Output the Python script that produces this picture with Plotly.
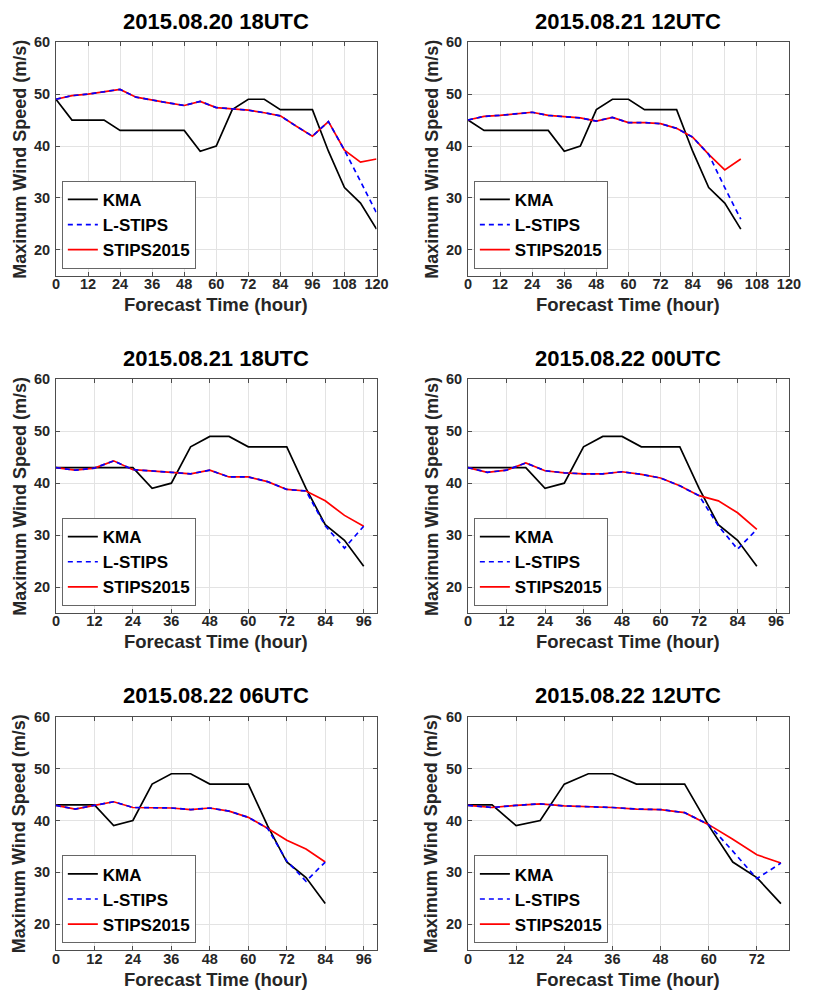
import plotly.graph_objects as go

# Forecast lead times (hours) shared by all runs
HOURS = [0, 6, 12, 18, 24, 30, 36, 42, 48, 54, 60, 66, 72, 78, 84, 90, 96, 102, 108, 114, 120]

INIT_TIMES = ["2015.08.20 18UTC", "2015.08.21 12UTC", "2015.08.21 18UTC",
              "2015.08.22 00UTC", "2015.08.22 06UTC", "2015.08.22 12UTC"]

# Best-track (KMA) maximum wind speed, m/s
KMA_0820_18 = [49, 45, 45, 45, 43, 43, 43, 43, 43, 39, 40, 47, 49, 49, 47, 47, 47, 39, 32, 29, 24]
KMA_0821_12 = [45, 43, 43, 43, 43, 43, 39, 40, 47, 49, 49, 47, 47, 47, 39, 32, 29, 24]
KMA_0821_18 = [43, 43, 43, 43, 43, 39, 40, 47, 49, 49, 47, 47, 47, 39, 32, 29, 24]
KMA_0822_00 = [43, 43, 43, 43, 39, 40, 47, 49, 49, 47, 47, 47, 39, 32, 29, 24]
KMA_0822_06 = [43, 43, 43, 39, 40, 47, 49, 49, 47, 47, 47, 39, 32, 29, 24]
KMA_0822_12 = [43, 43, 39, 40, 47, 49, 49, 47, 47, 47, 39, 32, 29, 24]

# STIPS2015 forecasts
STIPS_0820_18 = [49.0, 49.7, 50.0, 50.5, 50.9, 49.4, 48.8, 48.3, 47.8, 48.6, 47.4, 47.2,
                 46.9, 46.4, 45.8, 43.8, 41.9, 44.7, 39.2, 36.9, 37.5]
STIPS_0821_12 = [45.0, 45.7, 45.9, 46.2, 46.5, 45.9, 45.7, 45.4, 44.8, 45.5, 44.5, 44.5,
                 44.3, 43.4, 41.7, 38.4, 35.4, 37.5]
STIPS_0821_18 = [43.0, 42.5, 42.9, 44.3, 42.6, 42.4, 42.1, 41.8, 42.5, 41.2, 41.2, 40.3,
                 38.8, 38.5, 36.6, 33.8, 31.7]
STIPS_0822_00 = [43.0, 42.1, 42.5, 43.9, 42.4, 42.0, 41.8, 41.8, 42.2, 41.7, 41.0, 39.5,
                 37.6, 36.6, 34.3, 31.1]
STIPS_0822_06 = [42.9, 42.2, 42.9, 43.6, 42.5, 42.5, 42.4, 42.1, 42.4, 41.8, 40.6, 38.5,
                 36.2, 34.5, 32.0]
STIPS_0822_12 = [42.9, 42.5, 42.9, 43.2, 42.8, 42.7, 42.5, 42.2, 42.1, 41.5, 39.2, 36.4,
                 33.4, 31.8]

# L-STIPS forecasts
LSTIPS_0820_18 = [49.0, 49.7, 50.0, 50.5, 50.9, 49.4, 48.8, 48.3, 47.8, 48.6, 47.4, 47.2,
                  46.9, 46.4, 45.8, 43.8, 41.9, 44.7, 39.2, 33.2, 27.1]
LSTIPS_0821_12 = [45.0, 45.7, 45.9, 46.2, 46.5, 45.9, 45.7, 45.4, 44.8, 45.5, 44.5, 44.5,
                  44.3, 43.4, 41.7, 38.4, 32.0, 25.9]
LSTIPS_0821_18 = [43.0, 42.5, 42.9, 44.3, 42.6, 42.4, 42.1, 41.8, 42.5, 41.2, 41.2, 40.3,
                  38.8, 38.5, 31.8, 27.5, 31.7]
LSTIPS_0822_00 = [43.0, 42.1, 42.5, 43.9, 42.4, 42.0, 41.8, 41.8, 42.2, 41.7, 41.0, 39.5,
                  37.6, 31.8, 27.3, 31.1]
LSTIPS_0822_06 = [42.9, 42.2, 42.9, 43.6, 42.5, 42.5, 42.4, 42.1, 42.4, 41.8, 40.6, 38.5,
                  32.2, 28.3, 32.0]
LSTIPS_0822_12 = [42.9, 42.5, 42.9, 43.2, 42.8, 42.7, 42.5, 42.2, 42.1, 41.5, 39.2, 34.1,
                  28.8, 31.8]

XTICKS_120 = [0, 12, 24, 36, 48, 60, 72, 84, 96, 108, 120]
XTICKS_96 = [0, 12, 24, 36, 48, 60, 72, 84, 96]
XTICKS_72 = [0, 12, 24, 36, 48, 60, 72]
YTICKS = [20, 30, 40, 50, 60]

PANELS = [
    (INIT_TIMES[0], KMA_0820_18, LSTIPS_0820_18, STIPS_0820_18, 120, XTICKS_120),
    (INIT_TIMES[1], KMA_0821_12, LSTIPS_0821_12, STIPS_0821_12, 120, XTICKS_120),
    (INIT_TIMES[2], KMA_0821_18, LSTIPS_0821_18, STIPS_0821_18, 100, XTICKS_96),
    (INIT_TIMES[3], KMA_0822_00, LSTIPS_0822_00, STIPS_0822_00, 100, XTICKS_96),
    (INIT_TIMES[4], KMA_0822_06, LSTIPS_0822_06, STIPS_0822_06, 100, XTICKS_96),
    (INIT_TIMES[5], KMA_0822_12, LSTIPS_0822_12, STIPS_0822_12, 80, XTICKS_72),
]

# Page geometry in pixels
W, H = 813, 1002
COL_L = [53.0, 473.3]
COL_R = [380.0, 800.7]
ROW_T = [34.4, 374.3, 714.3]
ROW_H = 235.6

FONT = "Liberation Sans, Arial, sans-serif"
AXIS_COLOR = "#4d4d4d"
GRID_COLOR = "#e3e3e3"
TICK_FONT = dict(family=FONT, size=14.5, color="#262626", weight="bold")


def px_x(x):
    return x / W


def px_y(y):
    return 1 - y / H


fig = go.Figure()
layout = {}
annotations = []

for i, (title, kma, lstips, stips, xmax, xticks) in enumerate(PANELS):
    n = i + 1
    r, c = divmod(i, 2)
    left, right = COL_L[c], COL_R[c]
    top = ROW_T[r]
    bottom = top + ROW_H
    sfx = "" if n == 1 else str(n)
    xa, ya = "x" + sfx, "y" + sfx
    leg = "legend" + sfx

    fig.add_trace(go.Scatter(x=HOURS[:len(kma)], y=kma, name="KMA", mode="lines",
                             line=dict(color="#000000", width=1.7),
                             xaxis=xa, yaxis=ya, legend=leg, legendrank=1))
    fig.add_trace(go.Scatter(x=HOURS[:len(stips)], y=stips, name="STIPS2015", mode="lines",
                             line=dict(color="#ff0000", width=1.7),
                             xaxis=xa, yaxis=ya, legend=leg, legendrank=3))
    fig.add_trace(go.Scatter(x=HOURS[:len(lstips)], y=lstips, name="L-STIPS", mode="lines",
                             line=dict(color="#0000ff", width=1.7, dash="5px,4px"),
                             xaxis=xa, yaxis=ya, legend=leg, legendrank=2))

    layout["xaxis" + sfx] = dict(
        domain=[px_x(left), px_x(right)], anchor=ya, range=[0, xmax],
        tickmode="array", tickvals=xticks, ticks="inside", ticklen=4,
        tickcolor=AXIS_COLOR, showline=True, linecolor=AXIS_COLOR, linewidth=1,
        mirror="ticks", showgrid=True, gridcolor=GRID_COLOR, gridwidth=1,
        zeroline=False, tickfont=TICK_FONT, ticklabelstandoff=-5,
    )
    layout["yaxis" + sfx] = dict(
        domain=[px_y(bottom), px_y(top)], anchor=xa, range=[15, 60],
        tickmode="array", tickvals=YTICKS, ticks="inside", ticklen=4,
        tickcolor=AXIS_COLOR, showline=True, linecolor=AXIS_COLOR, linewidth=1,
        mirror="ticks", showgrid=True, gridcolor=GRID_COLOR, gridwidth=1,
        zeroline=False, tickfont=TICK_FONT, ticklabelstandoff=2,
    )
    layout[leg] = dict(
        x=px_x(left + 6), y=px_y(bottom - 7), xanchor="left", yanchor="bottom",
        xref="paper", yref="paper",
        bgcolor="#ffffff", bordercolor="#666666", borderwidth=1,
        font=dict(family=FONT, size=17, color="#000000", weight="bold"),
        itemwidth=30, tracegroupgap=0,
    )

    cx = (left + right) / 2
    annotations.append(dict(text=title, x=px_x(cx), y=px_y(top - 21), xref="paper", yref="paper",
                            xanchor="center", yanchor="middle", showarrow=False,
                            font=dict(family=FONT, size=22, color="#000000", weight="bold")))
    annotations.append(dict(text="Forecast Time (hour)", x=px_x(cx), y=px_y(bottom + 29),
                            xref="paper", yref="paper", xanchor="center", yanchor="middle",
                            showarrow=False,
                            font=dict(family=FONT, size=18.5, color="#262626", weight="bold")))
    annotations.append(dict(text="Maximum Wind Speed (m/s)", x=px_x(left - 37),
                            y=px_y(top + ROW_H / 2), xref="paper", yref="paper",
                            xanchor="center", yanchor="middle", textangle=-90, showarrow=False,
                            font=dict(family=FONT, size=18, color="#262626", weight="bold")))

fig.update_layout(
    width=W, height=H, margin=dict(l=0, r=0, t=0, b=0),
    paper_bgcolor="#ffffff", plot_bgcolor="#ffffff",
    showlegend=True, annotations=annotations, **layout,
)

fig.write_html("out.html")
